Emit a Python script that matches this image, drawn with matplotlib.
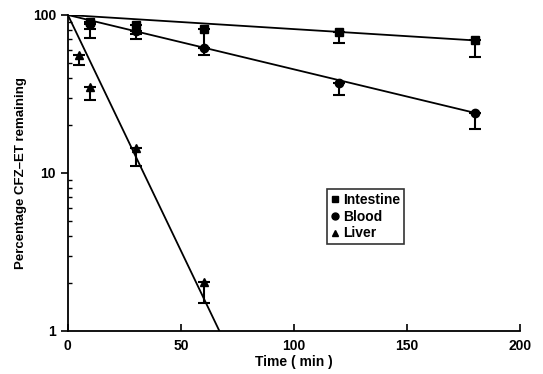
import numpy as np
import matplotlib
matplotlib.use('Agg')
import matplotlib.pyplot as plt
from matplotlib.ticker import LogLocator, NullFormatter, FixedLocator
from matplotlib.lines import Line2D

plt.rcParams['font.family'] = ['Liberation Sans', 'DejaVu Sans']
plt.rcParams['font.weight'] = 'bold'

# measured points (time in min, % remaining, lower end of error bar)
t_int = [10, 30, 60, 120, 180]
y_int = [90, 86, 81, 78, 69]
lo_int = [82, 76, 62, 66, 54]

t_blood = [10, 30, 60, 120, 180]
y_blood = [88, 79, 62, 37, 24]
lo_blood = [72, 70, 56, 31, 19]

t_liver = [5, 10, 30, 60]
y_liver = [56, 35, 14.4, 2.04]
lo_liver = [48, 29, 11, 1.5]

# fitted first-order decay lines: (start %, end time, end %)
fit_int = (100, 180, 69)
fit_blood = (100, 180, 24)
fit_liver = (100, 67, 1)

fig = plt.figure(figsize=(5.43, 3.74), dpi=100)
ax = fig.add_axes([0.125, 0.115, 0.833, 0.845])

for (t, y, lo, m, fit) in [(t_int, y_int, lo_int, 's', fit_int),
                           (t_blood, y_blood, lo_blood, 'o', fit_blood),
                           (t_liver, y_liver, lo_liver, '^', fit_liver)]:
    y0, t1, y1 = fit
    ax.plot([0, t1], [y0, y1], color='black', lw=1.3)
    err = [np.array(y) - np.array(lo), np.zeros(len(y))]
    ax.errorbar(t, y, yerr=err, fmt=m, color='black', ms=6, capsize=4,
                elinewidth=1.5, capthick=1.5)

ax.set_yscale('log')
ax.set_ylim(1, 100)
ax.set_xlim(0, 200)
ax.set_xticks([0, 50, 100, 150, 200])
ax.yaxis.set_major_locator(FixedLocator([1, 10, 100]))
ax.set_yticklabels(['1', '10', '100'])
ax.yaxis.set_minor_locator(LogLocator(base=10, subs=np.arange(2, 10)))
ax.yaxis.set_minor_formatter(NullFormatter())

for s in ['top', 'right']:
    ax.spines[s].set_visible(False)
for s in ['left', 'bottom']:
    ax.spines[s].set_linewidth(1.3)
ax.tick_params(axis='x', direction='in', length=5, width=1.2, labelsize=10, pad=6)
ax.tick_params(axis='y', which='major', direction='out', length=5, width=1.2, labelsize=10)
ax.tick_params(axis='y', which='minor', direction='in', length=3, width=1)

ax.set_xlabel('Time ( min )', fontsize=10, fontweight='bold', labelpad=1)
ax.set_ylabel('Percentage CFZ\u2013ET remaining', fontsize=9.5, fontweight='bold', labelpad=4)

handles = [Line2D([], [], marker='s', color='black', ls='none', ms=5),
           Line2D([], [], marker='o', color='black', ls='none', ms=5),
           Line2D([], [], marker='^', color='black', ls='none', ms=5)]
leg = ax.legend(handles, ['Intestine', 'Blood', 'Liver'], loc='upper left',
                bbox_to_anchor=(0.573, 0.448), frameon=True, fancybox=False,
                edgecolor='black', handlelength=0.6, handletextpad=0.3,
                borderpad=0.25, labelspacing=0.2, fontsize=10, borderaxespad=0)
leg.get_frame().set_linewidth(1.2)

fig.savefig('out.png', dpi=100)
